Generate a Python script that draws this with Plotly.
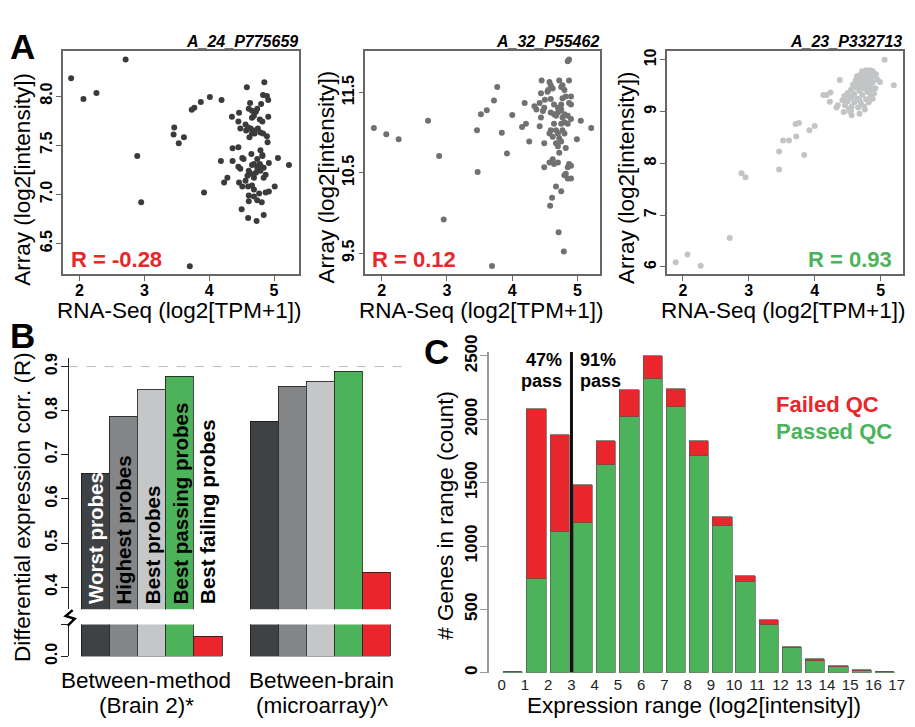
import plotly.graph_objects as go

W, H = 915, 727
def X(px): return px / W
def Y(py): return 1 - py / H

FONT = "Liberation Sans, Arial, Helvetica, sans-serif"
RED = "#e8262b"
GREEN = "#4cb35a"

# ---------------- Panel A data ----------------
probe_titles = ["A_24_P775659", "A_32_P55462", "A_23_P332713"]
r_labels = ["R = -0.28", "R = 0.12", "R = 0.93"]
x_tick_vals_a = [2, 3, 4, 5]

a24_points = [(1.87,8.18),(2.06,7.97),(2.26,8.03),(2.71,8.37),(2.89,7.39),(2.95,6.92),(3.46,7.68),(3.45,7.61),(3.53,7.52),(3.61,7.58),(3.70,6.27),(3.73,7.86),(3.77,7.88),(3.87,7.94),(3.92,7.02),(4.01,7.99),(4.19,7.96),
(4.58,8.09),(4.85,8.14),(4.83,8.01),(4.89,8.00),(4.91,7.96),(4.63,7.93),(4.61,7.87),(4.66,7.85),(4.80,7.92),(4.74,7.87),(4.72,7.84),(4.69,7.80),(4.66,7.78),(4.78,7.76),(4.82,7.74),(4.91,7.79),(4.35,7.79),(4.46,7.83),(4.45,7.74),(4.48,7.67),(4.56,7.71),(4.57,7.65),(4.64,7.67),(4.70,7.65),(4.75,7.67),(4.79,7.63),(4.66,7.62),(4.62,7.58),(4.83,7.62),(4.89,7.59),(4.90,7.53),(4.36,7.47),(4.45,7.48),(4.79,7.45),(4.65,7.41),(4.51,7.37),(4.18,7.34),(4.36,7.34),(4.53,7.36),(4.82,7.39),(4.92,7.32),(5.06,7.37),(5.23,7.30),(4.45,7.28),(4.48,7.26),(4.61,7.24),(4.69,7.31),(4.74,7.27),(4.64,7.21),(4.79,7.24),(4.87,7.20),(4.84,7.17),(4.69,7.17),(4.59,7.19),(4.28,7.17),(4.23,7.12),(4.56,7.14),(4.46,7.12),(4.66,7.09),(4.51,7.08),(4.60,7.08),(4.69,7.05),(4.77,7.01),(4.87,7.02),(4.92,7.03),(5.01,7.08),(4.61,6.99),(4.69,6.98),(4.61,6.93),(4.74,6.94),(4.81,6.92),(4.50,6.85),(4.60,6.76),(4.73,6.73),(4.84,6.79),
(4.76,7.25),(4.80,7.28),(4.72,7.22),(4.78,7.31),(4.70,7.62),(4.82,7.40),(4.74,7.36),(4.60,7.68),(4.66,7.30),(4.84,7.27)]

a32_points = [(1.88,11.06),(2.07,10.98),(2.26,10.92),(2.71,11.15),(2.88,10.71),(2.95,9.92),(3.46,11.03),(3.47,10.51),(3.52,11.23),(3.61,11.28),(3.69,9.34),(3.72,11.40),(3.77,11.57),(3.84,11.00),(3.92,10.74),(4.00,11.22),(4.79,9.52),
(4.85,11.89),(4.87,11.91),(4.45,11.65),(4.57,11.63),(4.59,11.59),(4.55,11.53),(4.62,11.55),(4.54,11.51),(4.72,11.65),(4.87,11.65),(4.77,11.59),(4.75,11.57),(4.80,11.53),(4.44,11.49),(4.90,11.45),(4.77,11.43),(4.82,11.45),(4.59,11.42),(4.50,11.41),(4.19,11.37),(4.34,11.33),(4.37,11.29),(4.42,11.37),(4.49,11.31),(4.47,11.27),(4.64,11.35),(4.70,11.31),(4.75,11.35),(4.87,11.37),(4.90,11.35),(4.59,11.25),(4.64,11.23),(4.70,11.25),(4.72,11.27),(4.75,11.29),(4.80,11.23),(4.67,11.21),(4.77,11.19),(4.85,11.21),(4.90,11.17),(4.44,11.19),(5.05,11.15),(5.21,11.06),(4.21,11.11),(4.15,11.07),(4.42,11.08),(4.64,11.11),(4.75,11.11),(4.80,11.13),(4.85,11.11),(4.59,11.03),(4.67,11.03),(4.77,11.03),(4.57,10.99),(4.70,10.99),(4.80,10.99),(4.62,10.95),(4.72,10.93),(4.75,10.89),(4.67,10.87),(4.70,10.83),(4.82,10.81),(4.99,10.92),(4.26,10.89),(4.49,10.87),(4.72,10.75),(4.62,10.67),(4.57,10.63),(4.49,10.57),(4.64,10.61),(4.70,10.63),(4.87,10.61),(4.90,10.59),(4.85,10.57),(4.80,10.47),(4.85,10.43),(4.90,10.43),(4.82,10.49),(4.67,10.33),(4.75,10.27),(4.61,10.19),(4.58,10.09),(4.71,9.76)]

a23_points = [(1.89,6.09),(2.07,6.24),(2.27,6.02),(2.71,6.56),(2.89,7.81),(2.95,7.73),(3.46,8.23),(3.46,7.88),(3.52,8.44),(3.61,8.44),(3.71,8.76),(3.76,8.78),(3.72,8.52),(3.84,8.16),(3.92,8.64),(4.00,8.72),(4.18,9.32),(4.24,9.37),(4.13,9.32),(4.23,9.19),(4.38,9.61),(4.35,9.12),(4.44,8.99),(4.56,8.93),(4.55,9.02),(5.06,10.00),(5.20,9.51),(4.99,9.57),
(4.33,9.08),(4.68,8.96),(4.76,9.04),(4.66,9.08),(4.53,9.01),
(4.72,9.78),(4.78,9.80),(4.84,9.80),(4.88,9.78),(4.75,9.74),(4.82,9.72),(4.68,9.70),(4.90,9.68),(4.95,9.62),(4.70,9.64),(4.78,9.66),(4.85,9.64),(4.62,9.60),(4.74,9.58),(4.80,9.55),(4.88,9.56),(4.66,9.54),(4.58,9.52),(4.71,9.50),(4.84,9.48),(4.92,9.45),(4.63,9.46),(4.76,9.44),(4.55,9.42),(4.68,9.40),(4.80,9.38),(4.90,9.35),(4.50,9.36),(4.60,9.34),(4.72,9.32),(4.85,9.30),(4.45,9.30),(4.55,9.27),(4.65,9.25),(4.78,9.24),(4.42,9.22),(4.50,9.20),(4.60,9.18),(4.70,9.16),(4.82,9.18),(4.46,9.12),(4.56,9.10),(4.88,9.25),(4.75,9.10),(4.52,9.05),
(4.64,9.68),(4.82,9.62),(4.74,9.48),(4.58,9.30),(4.86,9.42),(4.68,9.22),(4.48,9.26),(4.93,9.72)]

# ---------------- Panel B data ----------------
b_probe_sets = ["Worst probes", "Highest probes", "Best probes", "Best passing probes", "Best failing probes"]
b_colors = ["#3f4245", "#838587", "#c4c6c8", GREEN, RED]
b_between_method = [0.657, 0.785, 0.846, 0.876, 0.216]
b_between_brain = [0.774, 0.854, 0.865, 0.887, 0.433]
b_groups = [("Between-method", "(Brain 2)*"), ("Between-brain", "(microarray)^")]
b_upper_ticks = [0.4, 0.5, 0.6, 0.7, 0.8, 0.9]

# ---------------- Panel C data ----------------
c_bin_start = list(range(17))
c_passed = [3, 742, 1107, 1180, 1641, 2019, 2315, 2097, 1710, 1155, 714, 375, 195, 94, 48, 15, 4]
c_failed = [0, 1340, 767, 297, 188, 212, 185, 142, 121, 71, 51, 43, 8, 10, 3, 2, 0]
c_tick_labels = [str(i) for i in range(18)]
c_y_ticks = [0, 500, 1000, 1500, 2000, 2500]
c_threshold = 3
c_pass_text = [("47%", "pass"), ("91%", "pass")]

def bold(v):
    return "<b>%s</b>" % v

fig = go.Figure()

# ---------- Panel A traces ----------
point_colors = ["#3a3b3d", "#707173", "#c2c4c5"]
for k, pts in enumerate([a24_points, a32_points, a23_points]):
    sfx = "" if k == 0 else str(k + 1)
    fig.add_trace(go.Scatter(
        x=[p[0] for p in pts], y=[p[1] for p in pts], mode="markers",
        marker=dict(size=6, color=point_colors[k]),
        xaxis="x" + sfx, yaxis="y" + sfx, showlegend=False, hoverinfo="skip"))

# ---------- Panel B traces ----------
b_x = [i for i in range(5)] + [6 + i for i in range(5)]
b_y = b_between_method + b_between_brain
b_c = b_colors + b_colors
for ax in ["y4", "y5"]:
    fig.add_trace(go.Bar(x=b_x, y=b_y, width=1, xaxis="x4", yaxis=ax,
                         marker=dict(color=b_c, line=dict(color="#1a1a1a", width=0.8)),
                         showlegend=False, hoverinfo="skip"))

# ---------- Panel C traces ----------
c_x = [s + 0.5 for s in c_bin_start]
fig.add_trace(go.Bar(x=c_x, y=c_passed, width=0.83, xaxis="x6", yaxis="y6", name="Passed QC",
                     marker=dict(color=GREEN, line=dict(color="#555", width=0.7)), showlegend=False))
fig.add_trace(go.Bar(x=c_x, y=c_failed, width=0.83, xaxis="x6", yaxis="y6", name="Failed QC",
                     marker=dict(color=RED, line=dict(color="#555", width=0.7)), showlegend=False))

# ---------- Axes ----------
frames = [(63, 300, [1.74, 5.38], [6.19, 8.46], [6.5, 7.0, 7.5, 8.0]),
          (367, 603, [1.75, 5.35], [9.24, 12.02], [9.5, 10.5, 11.5]),
          (670, 907, [1.76, 5.34], [5.86, 10.175], [6, 7, 8, 9, 10])]
layout_axes = {}
for k, (l, r, xr, yr, yt) in enumerate(frames):
    sfx = "" if k == 0 else str(k + 1)
    layout_axes["xaxis" + sfx] = dict(
        domain=[X(l), X(r)], range=xr, anchor="y" + sfx, tickvals=x_tick_vals_a,
        ticktext=[bold(v) for v in x_tick_vals_a],
        ticks="outside", ticklen=5, tickcolor="#666", showline=True, mirror=True,
        linecolor="#666", linewidth=1.5, showgrid=False, zeroline=False, ticklabelstandoff=-4,
        tickfont=dict(family=FONT, size=16, color="black"))
    layout_axes["yaxis" + sfx] = dict(
        domain=[Y(266), Y(34)], range=yr, anchor="x" + sfx, tickvals=yt,
        ticktext=[bold(("%.1f" % v) if k < 2 else str(v)) for v in yt],
        tickangle=-90, ticks="outside", ticklen=5, tickcolor="#666", showline=True, mirror=True,
        linecolor="#666", linewidth=1.5, showgrid=False, zeroline=False, ticklabelstandoff=-2,
        tickfont=dict(family=FONT, size=16, color="black"))

layout_axes["xaxis4"] = dict(domain=[X(69), X(407)], range=[-0.96, 11.0], anchor="y5",
                             showticklabels=False, ticks="", showline=False, showgrid=False, zeroline=False)
layout_axes["yaxis4"] = dict(domain=[Y(614), Y(353)], range=[0.35, 0.9196], anchor="x4",
                             tickvals=b_upper_ticks, ticktext=[bold("%.1f" % v) for v in b_upper_ticks],
                             tickangle=-90, ticks="outside", ticklen=7, tickcolor="#222",
                             showline=True, linecolor="#222", linewidth=1.2, showgrid=False, zeroline=False,
                             ticklabelstandoff=-3, tickfont=dict(family=FONT, size=16, color="black"))
layout_axes["yaxis5"] = dict(domain=[Y(663), Y(630)], range=[0, 0.35], anchor="x4",
                             tickvals=[0, 0.35], ticktext=[bold("0.0"), ""],
                             tickangle=-90, ticks="outside", ticklen=7, tickcolor="#222",
                             showline=True, linecolor="#222", linewidth=1.2, showgrid=False, zeroline=False,
                             ticklabelstandoff=-3, tickfont=dict(family=FONT, size=16, color="black"))

layout_axes["xaxis6"] = dict(domain=[X(490.7), X(905)], range=[-0.57, 17.19], anchor="y6",
                             tickvals=list(range(18)), ticktext=c_tick_labels,
                             ticks="", showline=False, showgrid=False, zeroline=False,
                             ticklabelstandoff=1, tickfont=dict(family=FONT, size=15, color="#222"))
layout_axes["yaxis6"] = dict(domain=[Y(680), Y(347)], range=[0, 2530], anchor="x6",
                             tickvals=c_y_ticks, ticktext=[bold(v) for v in c_y_ticks],
                             tickangle=-90, ticks="outside", ticklen=7, tickcolor="#999",
                             showline=True, linecolor="#999", linewidth=1.5, showgrid=False, zeroline=False,
                             ticklabelstandoff=-4, tickfont=dict(family=FONT, size=17, color="black"))

# ---------- Annotations ----------
ann = []
def txt(text, px, py, size, color="black", bold=False, italic=False, angle=0,
        xanchor="center", yanchor="middle", align="center"):
    ann.append(dict(text=text, x=X(px), y=Y(py), xref="paper", yref="paper", showarrow=False,
                    textangle=angle, xanchor=xanchor, yanchor=yanchor, align=align,
                    font=dict(family=FONT, size=size, color=color,
                              weight="bold" if bold else "normal",
                              style="italic" if italic else "normal")))

# panel letters
txt("A", 8, 30, 35, bold=True, xanchor="left")
txt("B", 8, 330, 35, bold=True, xanchor="left")
txt("C", 424, 346, 35, bold=True, xanchor="left")

# Panel A texts
ytitle_x = [23, 328, 630]
ytitle_y = [167, 165, 166]
for k, (l, r, xr, yr, yt) in enumerate(frames):
    txt(probe_titles[k], r + 1, 24, 16, bold=True, italic=True, xanchor="right")
    txt("RNA-Seq (log2[TPM+1])", (l + r) / 2 - 2, 304, 22.5)
    txt("Array (log2[intensity])", ytitle_x[k], ytitle_y[k], 22.5, angle=-90)
txt(r_labels[0], 69, 251, 22, color=RED, bold=True, xanchor="left")
txt(r_labels[1], 372, 251, 22, color=RED, bold=True, xanchor="left")
txt(r_labels[2], 898, 251, 22, color=GREEN, bold=True, xanchor="right")

# Panel B texts
bar_centers_px = [96, 124.3, 152.5, 180.8, 209]
for i, name in enumerate(b_probe_sets):
    txt(name, bar_centers_px[i], 611, 20.5, color="white" if i == 0 else "black",
        bold=True, angle=-90, yanchor="bottom")
for cx, (l1, l2) in zip([147, 323], b_groups):
    txt(l1, cx, 688, 22.5)
    txt(l2, cx, 714, 22.5)
txt("Differential expression corr. (R)", 22, 508, 22.5, angle=-90)

# Panel C texts
txt(c_pass_text[0][0], 566, 355, 18, bold=True, xanchor="right")
txt(c_pass_text[0][1], 566, 377, 18, bold=True, xanchor="right")
txt(c_pass_text[1][0], 581, 355, 18, bold=True, xanchor="left")
txt(c_pass_text[1][1], 581, 377, 18, bold=True, xanchor="left")
txt("Failed QC", 777, 401, 22, color=RED, bold=True, xanchor="left")
txt("Passed QC", 777, 429, 22, color=GREEN, bold=True, xanchor="left")
txt("Expression range (log2[intensity])", 697, 714, 22.5)
txt("# Genes in range (count)", 448, 517, 22.5, angle=-90)

# ---------- Shapes ----------
shapes = [
    dict(type="line", xref="x4", yref="y4", x0=-0.96, x1=11.0, y0=0.9, y1=0.9,
         line=dict(color="#bbbbbb", width=1, dash="dash")),
    dict(type="path", xref="paper", yref="paper",
         path="M %f,%f L %f,%f L %f,%f L %f,%f" % (X(73), Y(615), X(66), Y(621), X(75), Y(624), X(68), Y(631)),
         line=dict(color="black", width=2.5)),
    dict(type="line", xref="x6", yref="y6", x0=c_threshold, x1=c_threshold, y0=0, y1=2530,
         line=dict(color="#111", width=3)),
]

fig.update_layout(
    width=W, height=H, margin=dict(l=0, r=0, t=0, b=0),
    paper_bgcolor="white", plot_bgcolor="white",
    barmode="stack", bargap=0, showlegend=False,
    annotations=ann, shapes=shapes,
    font=dict(family=FONT, color="black"),
    **layout_axes)

fig.write_html("out.html", config={"displayModeBar": False},
               post_script="document.documentElement.style.margin='0';document.body.style.margin='0';"
                           "document.body.style.padding='0';document.documentElement.style.overflow='hidden';"
                           "document.body.style.overflow='hidden';")
